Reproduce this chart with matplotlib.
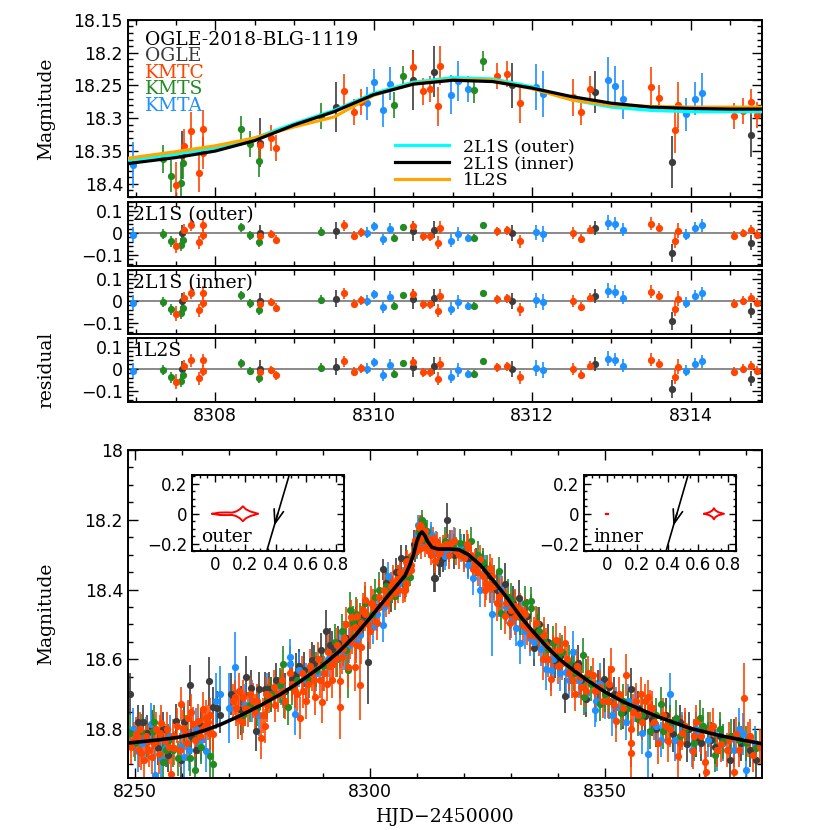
# OGLE-2018-BLG-1119 light curve: zoom on the anomaly + residuals, full light curve with caustic insets

import numpy as np
import matplotlib.pyplot as plt
from matplotlib.ticker import MultipleLocator

# ---------------------------------------------------------------- colours
C_OGLE = '#3c3c3c'
C_KMTC = '#ff4500'
C_KMTS = '#228b22'
C_KMTA = '#1e90ff'

# ---------------------------------------------------------------- anomaly window data (8307-8315)
ogle_day = [8307.58, 8308.56, 8309.53, 8310.49, 8310.76, 8311.75, 8312.79, 8313.77, 8314.76]
ogle_mag = [18.356, 18.337, 18.283, 18.242, 18.229, 18.250, 18.260, 18.367, 18.325]
ogle_err = [0.037, 0.038, 0.038, 0.046, 0.039, 0.035, 0.032, 0.040, 0.034]
ogle_res = [0.000, 0.000, 0.010, 0.008, 0.015, 0.000, 0.023, -0.090, -0.045]

kmtc_day = [8307.51, 8307.61, 8307.70, 8307.80, 8307.85, 8307.85, 8308.57, 8308.70, 8308.77,
            8309.63, 8309.75, 8309.84, 8310.50, 8310.62, 8310.71, 8310.81, 8310.84, 8311.56,
            8311.68, 8311.84, 8312.52, 8312.62, 8312.73, 8313.50, 8313.60, 8313.80, 8313.84,
            8314.55, 8314.66, 8314.76, 8314.84]
kmtc_mag = [18.402, 18.342, 18.320, 18.383, 18.317, 18.353, 18.340, 18.330, 18.345,
            18.258, 18.290, 18.275, 18.222, 18.259, 18.255, 18.282, 18.220, 18.235,
            18.232, 18.277, 18.268, 18.291, 18.256, 18.252, 18.269, 18.318, 18.280,
            18.297, 18.289, 18.275, 18.295]
kmtc_err = [0.035, 0.025, 0.030, 0.030, 0.030, 0.025, 0.022, 0.020, 0.020,
            0.025, 0.020, 0.020, 0.025, 0.020, 0.020, 0.030, 0.030, 0.020,
            0.020, 0.030, 0.028, 0.020, 0.020, 0.030, 0.020, 0.035, 0.035,
            0.020, 0.020, 0.020, 0.020]
kmtc_res = [-0.058, 0.015, 0.038, -0.043, 0.038, -0.008, -0.015, -0.005, -0.030,
            0.035, -0.012, 0.003, 0.030, -0.015, -0.015, -0.045, 0.023, 0.008,
            0.012, -0.038, 0.000, -0.026, 0.015, 0.042, 0.023, -0.035, 0.010,
            -0.012, 0.000, 0.015, -0.008]

kmts_day = [8307.34, 8307.44, 8307.57, 8307.60, 8308.33, 8308.44, 8308.55, 8309.33,
            8310.26, 8310.37, 8311.27, 8311.38]
kmts_mag = [18.362, 18.388, 18.398, 18.368, 18.317, 18.339, 18.365, 18.296,
            18.280, 18.235, 18.257, 18.213]
kmts_err = [0.022, 0.025, 0.030, 0.025, 0.020, 0.020, 0.025, 0.020,
            0.020, 0.015, 0.020, 0.015]
kmts_res = [-0.005, -0.038, -0.054, -0.030, 0.025, -0.010, -0.040, 0.005,
            -0.023, 0.026, -0.023, 0.035]

kmta_day = [8306.96, 8309.92, 8310.00, 8310.12, 8310.21, 8310.98, 8311.07, 8311.19,
            8312.05, 8312.14, 8312.96, 8313.05, 8313.15, 8313.94, 8314.05, 8314.14]
kmta_mag = [18.371, 18.277, 18.245, 18.288, 18.247, 18.264, 18.243, 18.255,
            18.252, 18.263, 18.242, 18.251, 18.271, 18.294, 18.270, 18.261]
kmta_err = [0.035, 0.025, 0.020, 0.025, 0.025, 0.030, 0.030, 0.020,
            0.035, 0.035, 0.035, 0.030, 0.030, 0.025, 0.025, 0.030]
kmta_res = [-0.008, 0.000, 0.030, -0.028, 0.018, -0.035, -0.005, -0.023,
            0.003, -0.005, 0.046, 0.042, 0.015, -0.008, 0.023, 0.034]

# models in the anomaly window
mod_day = [8306.9, 8307.5, 8308.0, 8308.5, 8309.0, 8309.5, 8310.0, 8310.5, 8311.0,
           8311.5, 8312.0, 8312.5, 8313.0, 8313.5, 8314.0, 8314.5, 8314.9]
mod_outer = [18.364, 18.355, 18.345, 18.330, 18.308, 18.288, 18.262, 18.245, 18.238,
             18.240, 18.252, 18.272, 18.283, 18.288, 18.290, 18.290, 18.290]
mod_inner = [18.369, 18.360, 18.350, 18.334, 18.310, 18.290, 18.264, 18.248, 18.242,
             18.244, 18.254, 18.267, 18.277, 18.283, 18.285, 18.286, 18.286]
mod_1l2s = [18.361, 18.351, 18.342, 18.330, 18.313, 18.298, 18.265, 18.247, 18.241,
            18.242, 18.255, 18.272, 18.280, 18.282, 18.283, 18.283, 18.283]

# ---------------------------------------------------------------- full season data (outside the window above)
ogle_day2 = [8248.85, 8250.6, 8251.7, 8253.6, 8254.9, 8256.0, 8257.0, 8258.8, 8259.8, 8261.6,
             8262.0, 8263.0, 8264.0, 8265.7, 8266.6, 8268.0, 8270.5, 8272.6, 8273.7, 8274.7,
             8275.7, 8276.5, 8277.6, 8278.6, 8280.0, 8282.0, 8283.4, 8284.3, 8286.0, 8287.6,
             8288.0, 8289.7, 8290.6, 8291.6, 8293.3, 8295.0, 8297.0, 8299.6, 8301.0, 8302.7,
             8304.6, 8306.7, 8307.8, 8311.2, 8313.7, 8314.9, 8316.5, 8318.0, 8320.9, 8322.5,
             8325.5, 8327.0, 8328.7, 8329.8, 8331.7, 8332.0, 8333.5, 8334.9, 8336.0, 8338.0,
             8339.4, 8341.5, 8343.0, 8344.3, 8346.1, 8348.5, 8349.8, 8352.0, 8355.7, 8357.0,
             8358.5, 8361.0, 8364.5, 8366.0, 8367.5, 8369.5, 8370.6, 8372.7, 8374.5, 8376.6,
             8379.0, 8382.3,
             8252.5, 8260.5, 8267.5, 8279.0, 8285.0, 8292.0, 8298.5, 8303.5, 8305.5, 8309.5,
             8315.5, 8320.0, 8324.0, 8330.5, 8335.5, 8340.5, 8345.0, 8351.0, 8354.0, 8360.0,
             8363.0, 8368.0, 8373.5, 8377.5, 8381.0]
ogle_mag2 = [18.700, 18.780, 18.780, 18.796, 18.854, 18.800, 18.873, 18.777, 18.888, 18.675,
             18.820, 18.859, 18.790, 18.663, 18.738, 18.760, 18.700, 18.746, 18.651, 18.682,
             18.804, 18.685, 18.685, 18.685, 18.660, 18.690, 18.656, 18.641, 18.630, 18.601,
             18.610, 18.574, 18.520, 18.559, 18.554, 18.540, 18.500, 18.607, 18.450, 18.342,
             18.414, 18.311, 18.313, 18.216, 18.366, 18.323, 18.202, 18.300, 18.313, 18.320,
             18.360, 18.400, 18.385, 18.463, 18.424, 18.470, 18.477, 18.569, 18.500, 18.550,
             18.603, 18.704, 18.620, 18.610, 18.714, 18.680, 18.656, 18.700, 18.685, 18.740,
             18.762, 18.800, 18.815, 18.780, 18.844, 18.830, 18.840, 18.830, 18.820, 18.888,
             18.840, 18.888,
             18.810, 18.780, 18.740, 18.700, 18.620, 18.570, 18.480, 18.380, 18.350, 18.270,
             18.310, 18.280, 18.330, 18.440, 18.520, 18.590, 18.660, 18.680, 18.750, 18.770,
             18.760, 18.800, 18.850, 18.820, 18.860]
ogle_err2 = [0.06, 0.05, 0.05, 0.05, 0.05, 0.05, 0.05, 0.05, 0.05, 0.06,
             0.05, 0.05, 0.05, 0.07, 0.06, 0.05, 0.06, 0.07, 0.06, 0.05,
             0.06, 0.05, 0.05, 0.05, 0.05, 0.05, 0.05, 0.06, 0.05, 0.05,
             0.05, 0.05, 0.06, 0.05, 0.05, 0.05, 0.05, 0.12, 0.05, 0.03,
             0.05, 0.04, 0.04, 0.03, 0.04, 0.04, 0.05, 0.04, 0.05, 0.04,
             0.04, 0.05, 0.06, 0.05, 0.05, 0.05, 0.05, 0.05, 0.05, 0.05,
             0.05, 0.05, 0.05, 0.05, 0.05, 0.05, 0.06, 0.05, 0.06, 0.05,
             0.05, 0.05, 0.05, 0.05, 0.05, 0.05, 0.05, 0.05, 0.05, 0.05,
             0.05, 0.05,
             0.05, 0.05, 0.05, 0.05, 0.05, 0.05, 0.05, 0.04, 0.04, 0.04,
             0.04, 0.04, 0.04, 0.05, 0.05, 0.05, 0.05, 0.05, 0.05, 0.05,
             0.05, 0.05, 0.05, 0.05, 0.05]

kmtc_day2 = [8249.2, 8249.8, 8250.3, 8251.0, 8251.3, 8252.0, 8252.8, 8253.0, 8254.0, 8254.5,
             8255.0, 8255.6, 8256.3, 8256.8, 8257.7, 8258.0, 8258.4, 8259.0, 8259.8, 8260.2,
             8261.0, 8261.3, 8262.0, 8262.3, 8263.4, 8263.8, 8264.5, 8264.8, 8265.2, 8265.9,
             8266.0, 8266.6, 8270.8, 8271.2, 8271.9, 8272.2, 8273.0, 8273.5, 8274.0, 8274.5,
             8275.1, 8276.0, 8276.9, 8277.2, 8277.6, 8278.0, 8278.6, 8279.5, 8280.5, 8281.2,
             8282.0, 8283.0, 8284.0, 8284.4, 8285.1, 8285.5, 8286.3, 8286.9, 8287.2, 8288.0,
             8288.3, 8289.0, 8289.9, 8290.2, 8290.8, 8291.0, 8292.0, 8292.2, 8293.0, 8293.6,
             8293.6, 8294.0, 8294.5, 8295.0, 8295.4, 8296.0, 8296.1, 8296.8, 8296.8, 8297.2,
             8297.5, 8297.9, 8298.2, 8298.2, 8298.5, 8298.9, 8299.5, 8300.2, 8300.7, 8301.2,
             8301.6, 8302.0, 8303.0, 8304.0, 8305.0, 8305.7, 8306.0, 8306.5, 8307.1, 8307.8,
             8310.6, 8311.6, 8312.8, 8314.2, 8315.6, 8316.3, 8317.0, 8318.4, 8319.0, 8320.6,
             8321.0, 8322.0, 8322.3, 8323.4, 8324.0, 8324.5, 8325.5, 8325.5, 8326.5, 8327.5,
             8328.7, 8329.0, 8329.8, 8330.8, 8331.0, 8332.6, 8333.0, 8334.0, 8335.4, 8336.0,
             8336.9, 8337.5, 8338.0, 8338.6, 8339.7, 8340.0, 8340.4, 8341.5, 8342.0, 8343.0,
             8343.6, 8344.7, 8345.0, 8346.5, 8347.5, 8348.0, 8349.6, 8350.7, 8351.0, 8351.4,
             8352.5, 8353.0, 8354.0, 8354.6, 8355.7, 8355.7, 8355.7, 8356.7, 8357.0, 8357.8,
             8358.5, 8359.2, 8359.6, 8360.5, 8361.3, 8362.5, 8363.5, 8364.0, 8365.6, 8366.0,
             8367.0, 8368.8, 8369.0, 8369.5, 8371.3, 8371.6, 8372.5, 8374.0, 8374.8, 8376.5,
             8377.6, 8378.0, 8378.5, 8379.6, 8380.5, 8381.6, 8383.0,
             8250.8, 8252.4, 8253.6, 8255.3, 8257.2, 8259.5, 8260.8, 8262.8, 8264.2, 8265.5,
             8271.5, 8272.7, 8275.5, 8277.9, 8279.9, 8281.6, 8283.4, 8285.8, 8287.6, 8289.4,
             8291.5, 8292.8, 8294.2, 8295.7, 8297.0, 8299.0, 8300.0, 8301.9, 8303.5, 8304.5,
             8305.4, 8306.2, 8309.0, 8309.9, 8313.0, 8315.0, 8316.8, 8318.0, 8320.0, 8321.5,
             8323.0, 8324.8, 8326.0, 8327.0, 8328.2, 8330.0, 8332.0, 8333.5, 8335.0, 8337.0,
             8339.0, 8341.0, 8342.5, 8344.0, 8346.0, 8349.0, 8352.0, 8356.0, 8358.0, 8360.0,
             8363.0, 8366.5, 8370.5, 8373.0, 8376.0, 8381.0]
kmtc_mag2 = [18.850, 18.830, 18.815, 18.800, 18.868, 18.888, 18.835, 18.860, 18.840, 18.800,
             18.870, 18.782, 18.835, 18.800, 18.930, 18.820, 18.854, 18.790, 18.728, 18.796,
             18.840, 18.767, 18.750, 18.786, 18.777, 18.820, 18.743, 18.790, 18.767, 18.810,
             18.760, 18.815, 18.720, 18.709, 18.767, 18.690, 18.709, 18.740, 18.743, 18.700,
             18.719, 18.720, 18.825, 18.760, 18.791, 18.730, 18.704, 18.680, 18.700, 18.660,
             18.720, 18.640, 18.690, 18.699, 18.767, 18.640, 18.720, 18.670, 18.620, 18.660,
             18.709, 18.600, 18.723, 18.640, 18.670, 18.580, 18.660, 18.612, 18.560, 18.661,
             18.738, 18.593, 18.540, 18.500, 18.622, 18.480, 18.535, 18.622, 18.506, 18.477,
             18.520, 18.675, 18.496, 18.564, 18.460, 18.429, 18.500, 18.440, 18.448, 18.460,
             18.496, 18.420, 18.400, 18.420, 18.380, 18.371, 18.400, 18.350, 18.400, 18.380,
             18.216, 18.245, 18.274, 18.265, 18.274, 18.269, 18.270, 18.289, 18.300, 18.269,
             18.280, 18.340, 18.323, 18.313, 18.360, 18.400, 18.337, 18.390, 18.390, 18.420,
             18.477, 18.440, 18.496, 18.448, 18.480, 18.501, 18.470, 18.530, 18.496, 18.540,
             18.598, 18.560, 18.600, 18.656, 18.545, 18.620, 18.574, 18.554, 18.600, 18.660,
             18.699, 18.651, 18.680, 18.640, 18.646, 18.690, 18.719, 18.719, 18.670, 18.627,
             18.777, 18.700, 18.740, 18.646, 18.801, 18.840, 18.869, 18.719, 18.760, 18.700,
             18.720, 18.709, 18.738, 18.780, 18.840, 18.760, 18.835, 18.800, 18.878, 18.840,
             18.790, 18.864, 18.820, 18.781, 18.893, 18.922, 18.800, 18.860, 18.844, 18.830,
             18.922, 18.815, 18.860, 18.711, 18.830, 18.873, 18.850,
             18.860, 18.820, 18.880, 18.810, 18.850, 18.860, 18.810, 18.830, 18.800, 18.780,
             18.740, 18.780, 18.750, 18.700, 18.730, 18.690, 18.670, 18.690, 18.640, 18.660,
             18.620, 18.600, 18.570, 18.550, 18.560, 18.470, 18.520, 18.450, 18.440, 18.390,
             18.410, 18.370, 18.300, 18.260, 18.300, 18.290, 18.300, 18.260, 18.310, 18.300,
             18.350, 18.380, 18.360, 18.440, 18.410, 18.460, 18.460, 18.510, 18.530, 18.530,
             18.580, 18.610, 18.640, 18.620, 18.690, 18.680, 18.730, 18.750, 18.780, 18.740,
             18.790, 18.810, 18.820, 18.790, 18.860, 18.820]
kmtc_err2 = [0.05, 0.05, 0.05, 0.05, 0.05, 0.06, 0.05, 0.05, 0.05, 0.05,
             0.06, 0.05, 0.05, 0.05, 0.06, 0.05, 0.05, 0.05, 0.05, 0.05,
             0.05, 0.05, 0.05, 0.05, 0.05, 0.05, 0.05, 0.05, 0.05, 0.05,
             0.05, 0.05, 0.05, 0.05, 0.06, 0.05, 0.05, 0.05, 0.05, 0.05,
             0.05, 0.05, 0.06, 0.05, 0.05, 0.05, 0.05, 0.05, 0.05, 0.05,
             0.05, 0.05, 0.05, 0.05, 0.06, 0.05, 0.05, 0.05, 0.05, 0.05,
             0.05, 0.05, 0.06, 0.05, 0.05, 0.05, 0.05, 0.05, 0.05, 0.05,
             0.09, 0.05, 0.05, 0.05, 0.06, 0.05, 0.05, 0.07, 0.05, 0.05,
             0.05, 0.10, 0.05, 0.05, 0.05, 0.05, 0.05, 0.05, 0.05, 0.05,
             0.05, 0.05, 0.05, 0.05, 0.05, 0.04, 0.04, 0.04, 0.04, 0.04,
             0.03, 0.03, 0.03, 0.03, 0.03, 0.03, 0.04, 0.04, 0.04, 0.04,
             0.04, 0.04, 0.04, 0.04, 0.04, 0.05, 0.04, 0.05, 0.05, 0.05,
             0.05, 0.05, 0.05, 0.05, 0.05, 0.05, 0.05, 0.05, 0.05, 0.05,
             0.06, 0.05, 0.05, 0.05, 0.05, 0.05, 0.05, 0.05, 0.05, 0.05,
             0.05, 0.05, 0.05, 0.05, 0.05, 0.05, 0.05, 0.05, 0.05, 0.06,
             0.06, 0.05, 0.05, 0.06, 0.06, 0.07, 0.08, 0.05, 0.05, 0.05,
             0.05, 0.05, 0.05, 0.05, 0.06, 0.05, 0.06, 0.05, 0.06, 0.05,
             0.05, 0.05, 0.05, 0.05, 0.06, 0.06, 0.05, 0.05, 0.05, 0.05,
             0.06, 0.05, 0.05, 0.10, 0.05, 0.05, 0.05,
             0.05, 0.05, 0.05, 0.05, 0.05, 0.05, 0.05, 0.05, 0.05, 0.05,
             0.05, 0.05, 0.05, 0.05, 0.05, 0.05, 0.05, 0.05, 0.05, 0.05,
             0.05, 0.05, 0.05, 0.05, 0.05, 0.05, 0.05, 0.05, 0.04, 0.04,
             0.04, 0.04, 0.03, 0.03, 0.03, 0.04, 0.04, 0.04, 0.04, 0.04,
             0.04, 0.05, 0.05, 0.05, 0.05, 0.05, 0.05, 0.05, 0.05, 0.05,
             0.05, 0.05, 0.05, 0.05, 0.05, 0.05, 0.05, 0.05, 0.05, 0.05,
             0.05, 0.05, 0.05, 0.05, 0.05, 0.05]

kmts_day2 = [8248.85, 8250.0, 8251.3, 8253.8, 8254.0, 8255.9, 8257.0, 8258.0, 8259.1, 8260.5,
             8261.6, 8262.7, 8264.0, 8265.9, 8266.5, 8273.0, 8276.0, 8279.0, 8280.8, 8281.5,
             8281.8, 8282.5, 8283.5, 8287.0, 8290.0, 8292.5, 8294.0, 8295.0, 8295.4, 8295.7,
             8296.4, 8297.0, 8299.0, 8301.0, 8302.0, 8303.5, 8304.2, 8305.3, 8306.0, 8311.0,
             8312.1, 8316.0, 8318.0, 8319.1, 8321.6, 8323.0, 8325.0, 8327.6, 8328.0, 8329.5,
             8331.0, 8333.0, 8334.4, 8334.4, 8336.0, 8338.0, 8339.0, 8341.0, 8343.5, 8345.4,
             8345.7, 8347.0, 8348.9, 8351.0, 8353.5, 8355.0, 8357.0, 8359.6, 8361.0, 8362.0,
             8362.4, 8364.0, 8365.2, 8367.0, 8369.0, 8370.2, 8372.0, 8373.4, 8375.2, 8377.0,
             8380.0, 8382.3,
             8252.5, 8256.5, 8263.5, 8274.5, 8278.0, 8284.5, 8288.5, 8293.0, 8298.0, 8300.5,
             8304.8, 8317.0, 8320.0, 8324.0, 8326.5, 8330.0, 8332.0, 8335.5, 8337.0, 8340.0,
             8342.5, 8346.0, 8350.0, 8354.0, 8358.0, 8363.0, 8366.0, 8371.0, 8374.5, 8378.5]
kmts_mag2 = [18.810, 18.840, 18.806, 18.806, 18.780, 18.893, 18.835, 18.860, 18.883, 18.800,
             18.883, 18.917, 18.850, 18.878, 18.900, 18.760, 18.740, 18.700, 18.675, 18.612,
             18.719, 18.738, 18.680, 18.660, 18.620, 18.550, 18.520, 18.574, 18.632, 18.458,
             18.496, 18.470, 18.440, 18.420, 18.400, 18.390, 18.410, 18.419, 18.370, 18.202,
             18.231, 18.260, 18.280, 18.266, 18.260, 18.300, 18.340, 18.347, 18.467, 18.420,
             18.450, 18.440, 18.434, 18.453, 18.520, 18.570, 18.554, 18.580, 18.640, 18.588,
             18.709, 18.670, 18.728, 18.720, 18.753, 18.740, 18.770, 18.806, 18.760, 18.728,
             18.806, 18.780, 18.767, 18.800, 18.840, 18.767, 18.800, 18.873, 18.835, 18.820,
             18.840, 18.854,
             18.830, 18.860, 18.820, 18.730, 18.720, 18.660, 18.630, 18.600, 18.490, 18.470,
             18.400, 18.270, 18.290, 18.320, 18.380, 18.430, 18.480, 18.500, 18.550, 18.590,
             18.610, 18.650, 18.700, 18.720, 18.760, 18.790, 18.820, 18.790, 18.800, 18.830]
kmts_err2 = [0.05, 0.05, 0.05, 0.05, 0.05, 0.06, 0.05, 0.05, 0.05, 0.05,
             0.05, 0.06, 0.05, 0.06, 0.08, 0.05, 0.05, 0.05, 0.05, 0.05,
             0.05, 0.05, 0.05, 0.05, 0.05, 0.05, 0.05, 0.06, 0.08, 0.05,
             0.05, 0.05, 0.05, 0.05, 0.05, 0.04, 0.04, 0.04, 0.04, 0.03,
             0.03, 0.04, 0.04, 0.04, 0.04, 0.04, 0.04, 0.04, 0.05, 0.05,
             0.05, 0.05, 0.04, 0.04, 0.05, 0.05, 0.05, 0.05, 0.05, 0.05,
             0.05, 0.05, 0.05, 0.05, 0.05, 0.05, 0.05, 0.05, 0.05, 0.05,
             0.05, 0.05, 0.05, 0.05, 0.05, 0.05, 0.05, 0.05, 0.05, 0.05,
             0.05, 0.05,
             0.05, 0.05, 0.05, 0.05, 0.05, 0.05, 0.05, 0.05, 0.05, 0.05,
             0.04, 0.04, 0.04, 0.04, 0.05, 0.05, 0.05, 0.05, 0.05, 0.05,
             0.05, 0.05, 0.05, 0.05, 0.05, 0.05, 0.05, 0.05, 0.05, 0.05]

kmta_day2 = [8249.5, 8250.6, 8252.4, 8253.5, 8254.2, 8255.6, 8257.5, 8259.8, 8261.5, 8263.0,
             8265.2, 8267.3, 8268.0, 8270.0, 8271.2, 8275.0, 8278.0, 8282.9, 8283.0, 8284.0,
             8285.0, 8288.5, 8291.0, 8292.2, 8293.6, 8295.5, 8298.0, 8300.7, 8301.5, 8302.8,
             8303.9, 8304.8, 8306.5, 8310.3, 8313.1, 8315.9, 8316.3, 8317.5, 8318.1, 8320.0,
             8322.0, 8323.4, 8324.5, 8326.0, 8328.0, 8330.0, 8331.2, 8331.9, 8333.0, 8335.0,
             8337.6, 8339.0, 8340.5, 8341.8, 8343.2, 8344.5, 8347.9, 8348.2, 8350.0, 8352.5,
             8354.5, 8356.5, 8359.2, 8362.0, 8364.0, 8366.5, 8368.5, 8370.2, 8372.0, 8375.2,
             8377.5, 8379.4, 8380.1, 8382.0,
             8251.5, 8256.5, 8260.5, 8264.0, 8273.5, 8276.5, 8281.0, 8286.5, 8290.0, 8294.5,
             8297.0, 8299.5, 8303.0, 8316.8, 8319.5, 8321.0, 8325.5, 8327.5, 8329.0, 8332.5,
             8334.0, 8336.5, 8338.5, 8342.5, 8346.0, 8349.0, 8351.5, 8355.0, 8358.0, 8361.0,
             8365.0, 8369.5, 8374.0, 8378.5]
kmta_mag2 = [18.800, 18.864, 18.825, 18.786, 18.931, 18.883, 18.820, 18.850, 18.860, 18.800,
             18.864, 18.719, 18.700, 18.740, 18.622, 18.720, 18.700, 18.612, 18.593, 18.757,
             18.630, 18.640, 18.600, 18.612, 18.574, 18.560, 18.530, 18.506, 18.470, 18.501,
             18.361, 18.400, 18.380, 18.216, 18.245, 18.303, 18.294, 18.270, 18.264, 18.300,
             18.366, 18.400, 18.350, 18.470, 18.400, 18.490, 18.511, 18.554, 18.520, 18.550,
             18.627, 18.600, 18.640, 18.636, 18.579, 18.660, 18.745, 18.719, 18.720, 18.738,
             18.780, 18.730, 18.871, 18.830, 18.700, 18.800, 18.860, 18.815, 18.830, 18.840,
             18.860, 18.815, 18.917, 18.840,
             18.840, 18.850, 18.880, 18.830, 18.730, 18.760, 18.680, 18.660, 18.640, 18.580,
             18.550, 18.490, 18.450, 18.280, 18.280, 18.330, 18.390, 18.430, 18.450, 18.480,
             18.540, 18.570, 18.630, 18.660, 18.700, 18.670, 18.760, 18.720, 18.810, 18.790,
             18.830, 18.800, 18.860, 18.800]
kmta_err2 = [0.06, 0.06, 0.06, 0.06, 0.07, 0.06, 0.06, 0.06, 0.06, 0.06,
             0.06, 0.08, 0.08, 0.10, 0.10, 0.06, 0.06, 0.05, 0.05, 0.06,
             0.05, 0.05, 0.05, 0.05, 0.05, 0.05, 0.05, 0.05, 0.05, 0.05,
             0.04, 0.04, 0.04, 0.03, 0.03, 0.04, 0.04, 0.04, 0.04, 0.04,
             0.05, 0.05, 0.05, 0.12, 0.05, 0.05, 0.05, 0.06, 0.05, 0.05,
             0.06, 0.05, 0.05, 0.06, 0.06, 0.05, 0.05, 0.06, 0.05, 0.06,
             0.05, 0.05, 0.07, 0.05, 0.06, 0.05, 0.05, 0.05, 0.05, 0.05,
             0.05, 0.06, 0.07, 0.05,
             0.06, 0.06, 0.06, 0.06, 0.06, 0.06, 0.05, 0.05, 0.05, 0.05,
             0.05, 0.05, 0.05, 0.04, 0.04, 0.04, 0.05, 0.05, 0.05, 0.05,
             0.05, 0.05, 0.06, 0.05, 0.05, 0.06, 0.06, 0.05, 0.06, 0.05,
             0.06, 0.05, 0.06, 0.06]

# best 2L1S model over the whole season
full_day = [8248.5, 8255.0, 8259.0, 8262.0, 8265.0, 8268.0, 8272.0, 8277.0, 8281.0, 8285.0,
            8290.0, 8293.5, 8297.0, 8300.0, 8303.0, 8305.5, 8307.5, 8308.5, 8309.3, 8310.0,
            8310.6, 8311.1, 8311.7, 8312.3, 8313.2, 8314.5, 8317.0, 8319.0, 8321.0, 8323.5,
            8326.0, 8329.0, 8332.0, 8334.7, 8337.6, 8340.4, 8343.2, 8346.5, 8350.0, 8354.0,
            8361.0, 8368.0, 8375.0, 8383.5]
full_mag = [18.840, 18.831, 18.824, 18.815, 18.803, 18.788, 18.764, 18.730, 18.700, 18.665,
            18.617, 18.577, 18.530, 18.482, 18.432, 18.392, 18.360, 18.330, 18.300, 18.262,
            18.242, 18.235, 18.245, 18.262, 18.279, 18.284, 18.284, 18.286, 18.300, 18.330,
            18.370, 18.420, 18.476, 18.520, 18.563, 18.600, 18.630, 18.662, 18.693, 18.722,
            18.763, 18.797, 18.820, 18.842]

# caustics and source trajectories for the insets
outer_cx = [-0.015, 0.03, 0.08, 0.114, 0.14, 0.165, 0.185, 0.205, 0.235, 0.286,
            0.235, 0.205, 0.185, 0.165, 0.14, 0.114, 0.08, 0.03, -0.015]
outer_cy = [0.0, 0.008, 0.009, 0.008, 0.015, 0.03, 0.05, 0.03, 0.015, 0.0,
            -0.015, -0.03, -0.05, -0.03, -0.015, -0.008, -0.009, -0.008, 0.0]
inner_cx = [0.642, 0.675, 0.695, 0.705, 0.715, 0.735, 0.771, 0.735, 0.715, 0.705, 0.695, 0.675, 0.642]
inner_cy = [0.0, 0.01, 0.022, 0.037, 0.022, 0.01, 0.0, -0.01, -0.022, -0.037, -0.022, -0.01, 0.0]
inner_dot_x = [-0.008, 0.008]
inner_dot_y = [0.0, 0.0]
outer_traj_x = [0.49, 0.342]
outer_traj_y = [0.26, -0.25]
inner_traj_x = [0.535, 0.39]
inner_traj_y = [0.26, -0.25]

# ---------------------------------------------------------------- figure
plt.rcParams['font.family'] = 'DejaVu Sans'
SERIF = 'DejaVu Serif'
FS = 12.5
TFS = 13.5

fig = plt.figure(figsize=(8.3, 8.3), dpi=100)

L, W = 0.1542, 0.7639
ax_top = fig.add_axes([L, 0.7627, W, 0.2133])
ax_r1 = fig.add_axes([L, 0.6795, W, 0.0771], sharex=ax_top)
ax_r2 = fig.add_axes([L, 0.5976, W, 0.0771], sharex=ax_top)
ax_r3 = fig.add_axes([L, 0.5157, W, 0.0771], sharex=ax_top)
ax_bot = fig.add_axes([L, 0.0627, W, 0.3952])


def ticks(ax, size=FS):
    ax.tick_params(which='both', direction='in', top=True, right=True, labelsize=size, width=1.0)
    ax.tick_params(which='major', length=7)
    ax.tick_params(which='minor', length=3.5)
    for s in ax.spines.values():
        s.set_linewidth(1.4)


ebkw = dict(fmt='o', ms=5.2, mew=0, capsize=2.8, elinewidth=1.2, capthick=1.2)
sets = [(ogle_day, ogle_mag, ogle_err, ogle_res, C_OGLE),
        (kmta_day, kmta_mag, kmta_err, kmta_res, C_KMTA),
        (kmts_day, kmts_mag, kmts_err, kmts_res, C_KMTS),
        (kmtc_day, kmtc_mag, kmtc_err, kmtc_res, C_KMTC)]

# ---- top panel
for d, m, e, r, c in sets:
    ax_top.errorbar(d, m, yerr=e, color=c, zorder=2, **ebkw)
l1, = ax_top.plot(mod_day, mod_outer, color='#00ffff', lw=2.3, zorder=3, label='2L1S (outer)')
l2, = ax_top.plot(mod_day, mod_inner, color='black', lw=2.3, zorder=4, label='2L1S (inner)')
l3, = ax_top.plot(mod_day, mod_1l2s, color='#ffa500', lw=2.3, zorder=3, label='1L2S')
ax_top.set_xlim(8306.9, 8314.9)
ax_top.set_ylim(18.42, 18.15)
ax_top.xaxis.set_major_locator(MultipleLocator(2))
ax_top.xaxis.set_minor_locator(MultipleLocator(0.5))
ax_top.yaxis.set_minor_locator(MultipleLocator(0.01))
ax_top.set_yticks([18.15, 18.2, 18.25, 18.3, 18.35, 18.4])
ax_top.set_yticklabels(['18.15', '18.2', '18.25', '18.3', '18.35', '18.4'])
ticks(ax_top)
ax_top.tick_params(labelbottom=False)
ax_top.set_ylabel('Magnitude', family=SERIF, fontsize=TFS)
ax_top.yaxis.set_label_coords(-0.115, 0.5)
ax_top.legend(handles=[l1, l2, l3], loc='upper left', bbox_to_anchor=(0.41, 0.37),
              frameon=False, handlelength=3.1, handletextpad=0.8, labelspacing=0.0,
              borderaxespad=0, prop=dict(family=SERIF, size=FS))

labels = [('OGLE-2018-BLG-1119', 'black'), ('OGLE', C_OGLE), ('KMTC', C_KMTC),
          ('KMTS', C_KMTS), ('KMTA', C_KMTA)]
for i, (t, c) in enumerate(labels):
    ax_top.text(0.027, 0.887 - 0.093 * i, t, color=c, family=SERIF, fontsize=TFS,
                transform=ax_top.transAxes, va='center', ha='left')

# ---- residual panels
for ax, name in [(ax_r1, '2L1S (outer)'), (ax_r2, '2L1S (inner)'), (ax_r3, '1L2S')]:
    ax.axhline(0, color='#808080', lw=1.3, zorder=1)
    for d, m, e, r, c in sets:
        ax.errorbar(d, r, yerr=e, color=c, zorder=2, **ebkw)
    ax.set_ylim(-0.15, 0.14)
    ax.set_yticks([-0.1, 0, 0.1])
    ax.set_yticklabels(['\u22120.1', '0', '0.1'])
    ax.yaxis.set_minor_locator(MultipleLocator(0.02))
    ticks(ax)
    ax.text(0.008, 0.80, name, family=SERIF, fontsize=TFS, transform=ax.transAxes,
            va='center', ha='left', zorder=5)
ax_r1.tick_params(labelbottom=False)
ax_r2.tick_params(labelbottom=False)
ax_r3.set_xticks([8308, 8310, 8312, 8314])
ax_r3.set_ylabel('residual', family=SERIF, fontsize=TFS)
ax_r3.yaxis.set_label_coords(-0.115, 0.5)

# ---- full light curve
full = [(ogle_day2 + ogle_day, ogle_mag2 + ogle_mag, ogle_err2 + ogle_err, C_OGLE),
        (kmta_day2 + kmta_day, kmta_mag2 + kmta_mag, kmta_err2 + kmta_err, C_KMTA),
        (kmts_day2 + kmts_day, kmts_mag2 + kmts_mag, kmts_err2 + kmts_err, C_KMTS),
        (kmtc_day2 + kmtc_day, kmtc_mag2 + kmtc_mag, kmtc_err2 + kmtc_err, C_KMTC)]
for d, m, e, c in full:
    ax_bot.errorbar(d, m, yerr=e, color=c, zorder=2, **ebkw)
ax_bot.plot(full_day, full_mag, color='black', lw=2.6, zorder=4)
ax_bot.set_xlim(8248.5, 8383.5)
ax_bot.set_ylim(18.94, 18.0)
ax_bot.xaxis.set_major_locator(MultipleLocator(50))
ax_bot.xaxis.set_minor_locator(MultipleLocator(10))
ax_bot.set_yticks([18.0, 18.2, 18.4, 18.6, 18.8])
ax_bot.set_yticklabels(['18', '18.2', '18.4', '18.6', '18.8'])
ax_bot.yaxis.set_minor_locator(MultipleLocator(0.05))
ticks(ax_bot)
ax_bot.set_ylabel('Magnitude', family=SERIF, fontsize=TFS)
ax_bot.yaxis.set_label_coords(-0.115, 0.5)
ax_bot.set_xlabel('HJD\u22122450000', family=SERIF, fontsize=TFS, labelpad=5)

# ---- caustic insets
for left, cx, cy, tx, ty, name in [(0.2313, outer_cx, outer_cy, outer_traj_x, outer_traj_y, 'outer'),
                                   (0.7036, inner_cx, inner_cy, inner_traj_x, inner_traj_y, 'inner')]:
    ia = fig.add_axes([left, 0.3361, 0.1831, 0.0916])
    ia.set_facecolor('white')
    ia.plot(cx, cy, color='red', lw=1.4)
    if name == 'inner':
        ia.plot(inner_dot_x, inner_dot_y, color='red', lw=1.6)
    ia.plot(tx, ty, color='black', lw=1.2)
    # arrow head on the trajectory, pointing along the source motion
    x0 = tx[1] + (tx[0] - tx[1]) * 0.15 / 0.51
    x1 = tx[1] + (tx[0] - tx[1]) * 0.27 / 0.51
    ia.annotate('', xy=(x0, -0.10), xytext=(x1, 0.02),
                arrowprops=dict(arrowstyle='->,head_length=1.0,head_width=0.35', lw=1.2, color='black'))
    ia.set_xlim(-0.15, 0.85)
    ia.set_ylim(-0.25, 0.26)
    ia.set_xticks([0, 0.2, 0.4, 0.6, 0.8])
    ia.set_xticklabels(['0', '0.2', '0.4', '0.6', '0.8'])
    ia.set_yticks([-0.2, 0, 0.2])
    ia.set_yticklabels(['\u22120.2', '0', '0.2'])
    ia.xaxis.set_minor_locator(MultipleLocator(0.05))
    ia.yaxis.set_minor_locator(MultipleLocator(0.05))
    ticks(ia, size=12)
    ia.tick_params(which='major', length=5)
    ia.tick_params(which='minor', length=2.5)
    ia.text(-0.09, -0.155, name, family=SERIF, fontsize=TFS, va='center', ha='left')

fig.savefig('out.png', dpi=100)
